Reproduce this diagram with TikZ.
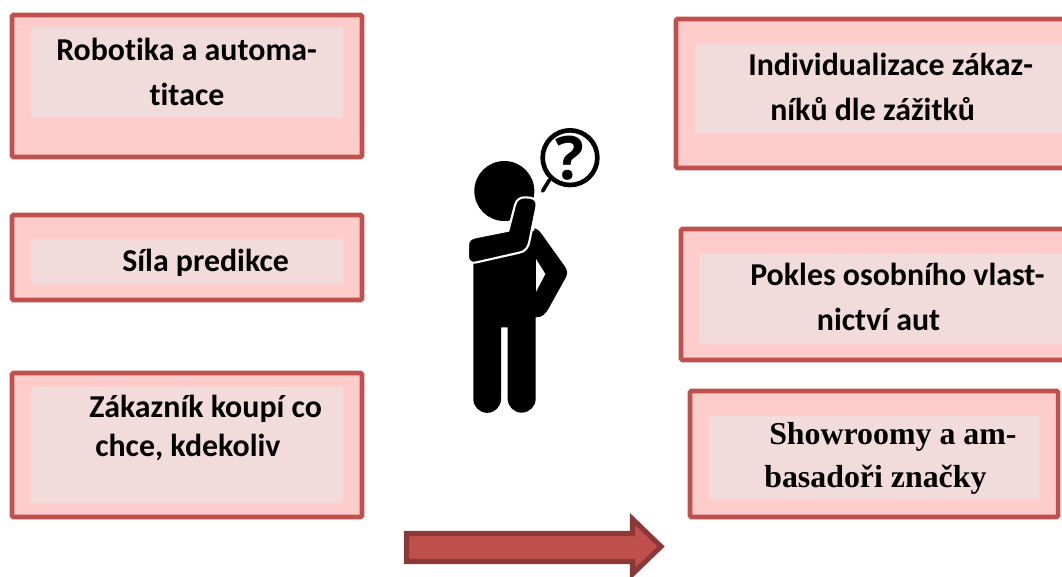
\documentclass[tikz,border=0pt]{standalone}
\usepackage{xcolor}
\usepackage{fontspec}
\setmainfont[Ligatures=NoCommon]{Carlito}
\newfontfamily\serifbold{Liberation Serif}
\usetikzlibrary{fit}

\begin{document}
\begin{tikzpicture}[x=0.75pt,y=-0.75pt]
    \definecolor{myframe}{RGB}{192,80,77}
    \definecolor{myfill}{RGB}{255,204,204}
    \definecolor{myinner}{RGB}{242,219,219}
    \definecolor{myarrow}{RGB}{140,56,54}
    \tikzstyle{outerbox}=[rectangle,draw=myframe,line width=3.4pt,rounded corners=1pt,fill=myfill,inner sep=0pt]
    \tikzstyle{innerbox}=[rectangle,fill=myinner,inner sep=0pt]
    \tikzstyle{boxtext}=[anchor=north west,align=left,inner sep=0pt,font=\bfseries\fontsize{23.9pt}{33.75pt}\selectfont]
    \useasboundingbox (0,0) rectangle (1062,576);

    % left boxes
    \node[outerbox,fit={(12,15)(362,157)}](robotOut){};
    \node[innerbox,fit={(31,28)(343,118)}](robotIn){};
    \node[boxtext] at (56,38)(robotText){Robotika a automa-\\\hspace*{70pt}titace};
    \node[outerbox,fit={(12,215)(362,300)}](silaOut){};
    \node[innerbox,fit={(31,239)(343,284)}](silaIn){};
    \node[boxtext] at (122,249)(silaText){Síla predikce};
    \node[outerbox,fit={(12,373)(362,517)}](zakOut){};
    \node[innerbox,fit={(31,387)(343,503)}](zakIn){};
    \node[boxtext,font=\bfseries\fontsize{23.9pt}{29.5pt}\selectfont] at (89,395)(zakText){Zákazník koupí co\\\hspace*{4.5pt}chce, kdekoliv};

    % right boxes
    \node[outerbox,fit={(676,19)(1070,168)}](indOut){};
    \node[innerbox,fit={(695,44)(1070,134)}](indIn){};
    \node[boxtext] at (748,53)(indText){Individualizace zákaz-\\\hspace*{16.5pt}níků dle zážitků};
    \node[outerbox,fit={(681,229)(1070,360)}](pokOut){};
    \node[innerbox,fit={(699,254)(1070,344)}](pokIn){};
    \node[boxtext] at (750,263)(pokText){Pokles osobního vlast-\\\hspace*{50pt}nictví aut};
    \node[outerbox,fit={(690,391)(1058,517)}](showOut){};
    \node[innerbox,fit={(709,416)(1039,500)}](showIn){};
    \node[boxtext,font=\serifbold\bfseries\fontsize{23.9pt}{32pt}\selectfont] at (769,422)(showText){Showroomy a am-\\\hspace*{-3.7pt}basadoři značky};

    % arrow
    \draw[draw=myarrow,fill=myframe,line width=3.8pt,miter limit=10]
        (406.5,533.5) -- (632.5,533.5) -- (632.5,519) -- (661,546.5) -- (632.5,574) -- (632.5,561.5) -- (406.5,561.5) -- cycle;

    % person, coordinates as in a 3x crop
    \begin{scope}[shift={(440,110)},x=0.25pt,y=-0.25pt]
        \fill (193,243) circle (90);
        % legs and body
        \fill (100,440) -- (287,360) -- (287,866) arc[start angle=0,end angle=180,radius=42] -- (203,652) -- (183,652)
            -- (183,867) arc[start angle=0,end angle=180,radius=41.5] -- cycle;
        % other arm
        \fill (283,355) .. controls (295,358) and (300,365) .. (305,372) -- (375,470) .. controls (383,482) and (383,492) .. (376,505)
            -- (326,595) .. controls (315,615) and (305,622) .. (287,622) -- (280,622) -- cycle;
        \fill[white] (288,447) -- (316,492) -- (288,545) -- cycle;
        % raised arm
        \fill[draw=white,line width=1.6pt] (225,285) .. controls (230,268) and (240,262) .. (255,262) -- (270,263)
            .. controls (285,265) and (293,275) .. (289,292) -- (268,395) .. controls (265,412) and (255,425) .. (238,428)
            -- (105,458) .. controls (92,460) and (84,452) .. (84,440) -- (84,405) .. controls (84,392) and (92,385) .. (105,382)
            -- (205,362) -- cycle;
        % question bubble
        \node[circle,draw,line width=3.5pt,minimum size=164*0.25pt,inner sep=0pt,fill=white] at (390,143)(bubble){};
        \coordinate (tail) at (308,243);
        \draw[line width=2.8pt,line cap=round] (bubble) ++(-62,67) -- (tail);
        \node[inner sep=0pt,font=\fontspec{Open Sans}\bfseries\fontsize{45pt}{45pt}\selectfont] at (bubble)(mark){?};
    \end{scope}
\end{tikzpicture}
\end{document}
